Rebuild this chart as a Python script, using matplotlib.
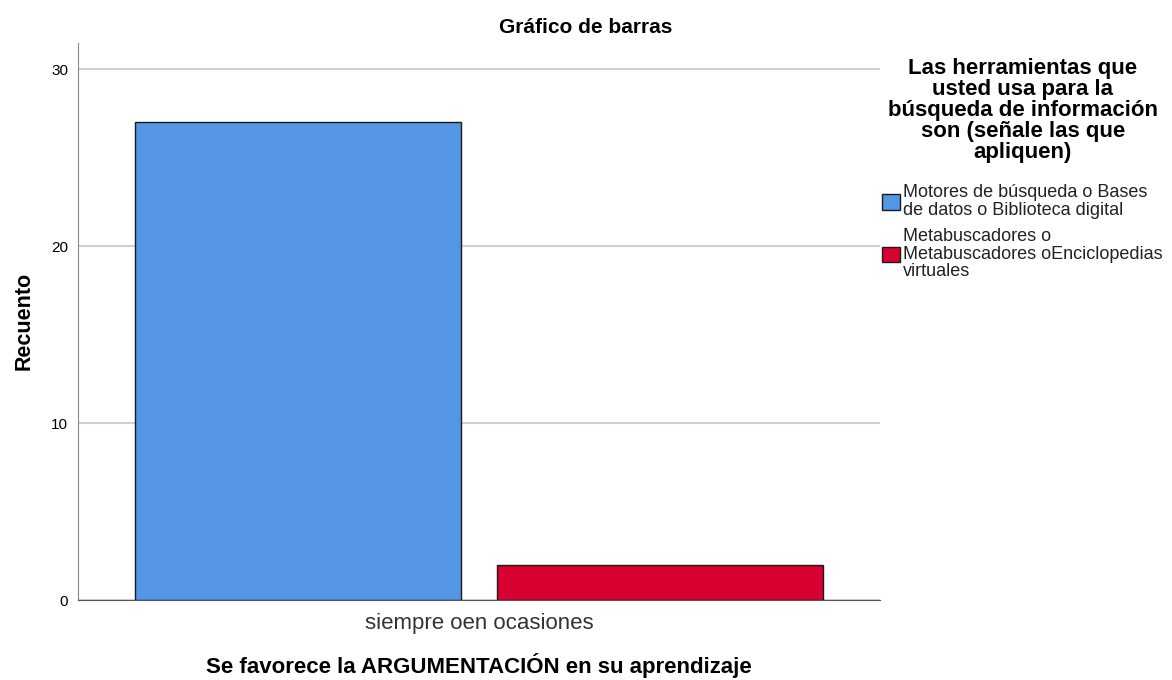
import numpy as np
import matplotlib.pyplot as plt
from matplotlib.patches import Patch

plt.rcParams['font.family'] = ['Liberation Sans', 'DejaVu Sans']

# datos
categoria = ['siempre oen ocasiones']
series = ['Motores de búsqueda o Bases\nde datos o Biblioteca digital',
          'Metabuscadores o\nMetabuscadores oEnciclopedias\nvirtuales']
recuento = [27, 2]
colores = ['#5596e4', '#d80030']
y_ticks = [0, 10, 20, 30]

fig = plt.figure(figsize=(11.72, 6.80), dpi=100)
ax = fig.add_axes([0.0666, 0.1176, 0.6843, 0.8194])

ancho = 0.4
hueco = 0.0442
offsets = [-(ancho + hueco) / 2, (ancho + hueco) / 2]
for i in range(len(series)):
    ax.bar(0 + offsets[i], recuento[i], width=ancho, color=colores[i],
           edgecolor='#1a1a1a', linewidth=1, zorder=3)

ax.set_xlim(-0.492, 0.492)
ax.set_ylim(0, 31.5)
ax.set_yticks(y_ticks)
ax.set_xticks([0])
ax.set_xticklabels(categoria, fontsize=16, color='#333333')
ax.tick_params(axis='y', length=0, labelsize=11, pad=7)
ax.tick_params(axis='x', length=0, pad=9)
ax.yaxis.grid(True, color='#d0d0d0', linewidth=1.5, zorder=0)
ax.set_axisbelow(True)

for s in ['top', 'right']:
    ax.spines[s].set_visible(False)
ax.spines['left'].set_color('#888888')
ax.spines['bottom'].set_color('#555555')

# el titulo va centrado en la figura, no en los ejes
fig.text(0.5, 0.96, 'Gráfico de barras', fontsize=15, fontweight='bold',
         ha='center', va='center')
ax.set_xlabel('Se favorece la ARGUMENTACIÓN en su aprendizaje', fontsize=16,
              fontweight='bold', labelpad=14)
ax.set_ylabel('Recuento', fontsize=15.5, fontweight='bold', labelpad=12)

handles = [Patch(facecolor=colores[i], edgecolor='#1a1a1a', label=series[i])
           for i in range(len(series))]
leg = ax.legend(handles=handles,
                title='Las herramientas que\nusted usa para la\nbúsqueda de información\nson (señale las que\napliquen)',
                loc='upper left', bbox_to_anchor=(0.994, 0.985), frameon=False,
                fontsize=13, handlelength=0.95, handleheight=0.95,
                handletextpad=0.2, labelspacing=0.5, borderaxespad=0,
                alignment='center')
leg.get_title().set_fontsize(16)
leg.get_title().set_fontweight('bold')
leg.get_title().set_multialignment('center')
leg.get_title().set_linespacing(1.0)
for t in leg.get_texts():
    t.set_linespacing(1.05)
    t.set_color('#222222')
leg._legend_box.sep = 15

fig.savefig('out.png', dpi=100)
